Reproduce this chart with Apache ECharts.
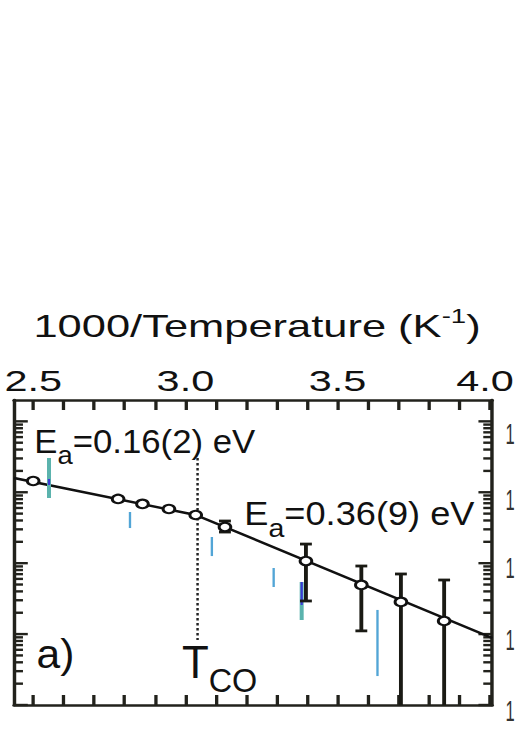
<!DOCTYPE html>
<html><head><meta charset="utf-8">
<script src="https://cdn.jsdelivr.net/npm/echarts@6/dist/echarts.min.js"></script>
<style>
html,body{margin:0;padding:0;background:#fff;overflow:hidden;}
#wrap{width:515px;height:729px;overflow:hidden;position:relative;background:#fff;}
#chart{width:373.19px;height:729px;transform:scaleX(1.38);transform-origin:0 0;}
</style></head><body><div id="wrap"><div id="chart"></div></div>
<script>
const S = 1.38;
const FONT = '"Liberation Sans", Arial, sans-serif';

// ---- data ----
const xAxisRange = [2.437, 4.008];
const yAxisRange = [1, 20000];
const xTickValues = [2.5, 2.6, 2.7, 2.8, 2.9, 3.0, 3.1, 3.2, 3.3, 3.4, 3.5, 3.6, 3.7, 3.8, 3.9, 4.0];
const xLabelValues = [2.5, 3.0, 3.5, 4.0];
const yTickValues = [1, 2, 3, 4, 5, 6, 7, 8, 9, 10, 20, 30, 40, 50, 60, 70, 80, 90,
  100, 200, 300, 400, 500, 600, 700, 800, 900, 1000, 2000, 3000, 4000, 5000, 6000, 7000, 8000, 9000, 10000];

const pointX = [2.5, 2.779, 2.859, 2.946, 3.034, 3.130, 3.396, 3.578, 3.708, 3.850];
const pointY = [1442, 804, 684, 581, 478, 324, 107, 49.3, 28.4, 15.3];

const errX = [3.130, 3.396, 3.578, 3.708, 3.850];
const errLow = [275, 29.3, 11.1, 0.5, 0.5];
const errHigh = [393, 186, 91.2, 70.4, 57.9];

const fitX = [2.437, 3.034, 4.008];
const fitY = [1589, 478, 8.81];

const tcoX = [3.04, 3.04];
const tcoY = [3048, 8.26];

const tealX = [2.552, 3.382];
const tealLow = [830, 15.8];
const tealHigh = [3043, 54.3];

const lblueX = [2.818, 3.087, 3.290, 3.631];
const lblueLow = [313, 126, 46.1, 2.56];
const lblueHigh = [527, 234, 85.5, 21.9];

const blueX = [2.552, 3.382];
const blueLow = [1267, 25.7];
const blueHigh = [1538, 54.3];

const titleText = '1000/Temperature (K';
const titleSup = '-1';
const ea1 = '=0.16(2) eV';
const ea2 = '=0.36(9) eV';
const panelLabel = 'a)';
const rightLabels = ['1', '1', '1', '1', '1'];
// ---------------

const chart = echarts.init(document.getElementById('chart'), null, {renderer: 'svg'});

function vbar(width, color, capHalf) {
  return function (params, api) {
    const x = api.value(0), lo = api.value(1), hi = api.value(2);
    const cs = params.coordSys;
    const p1 = api.coord([x, hi]);
    const p2 = api.coord([x, lo]);
    const bottom = cs.y + cs.height;
    let y2 = p2[1], clipped = false;
    if (y2 > bottom) { y2 = bottom; clipped = true; }
    const st = {stroke: color, lineWidth: width};
    const ch = [{type: 'line', shape: {x1: p1[0], y1: p1[1], x2: p1[0], y2: y2}, style: st}];
    if (capHalf) {
      ch.push({type: 'line', shape: {x1: p1[0] - capHalf, y1: p1[1], x2: p1[0] + capHalf, y2: p1[1]}, style: st});
      if (!clipped) ch.push({type: 'line', shape: {x1: p1[0] - capHalf, y1: y2, x2: p1[0] + capHalf, y2: y2}, style: st});
    }
    return {type: 'group', children: ch};
  };
}

const frameColor = '#22221c';
const axisCommon = {
  type: 'value', min: xAxisRange[0], max: xAxisRange[1],
  axisLine: {show: true, onZero: false, lineStyle: {color: frameColor, width: 2.5}},
  splitLine: {show: false}
};

const option = {
  animation: false,
  backgroundColor: '#fff',
  grid: {left: 14 / S, right: 373.19 - 492.5 / S, top: 400, bottom: 24, containLabel: false, outerBoundsMode: 'none'},
  xAxis: [
    Object.assign({}, axisCommon, {
      position: 'top',
      axisTick: {show: true, inside: true, length: 10, customValues: xTickValues, lineStyle: {color: frameColor, width: 2.4}},
      axisLabel: {show: true, customValues: xLabelValues,
        formatter: v => (v >= xLabelValues[xLabelValues.length - 1] - 1e-9 ? '{e|' + Number(v).toFixed(1) + '}' : Number(v).toFixed(1)),
        rich: {e: {fontSize: 30, fontFamily: FONT, color: '#111', padding: [0, 7, 0, 0]}},
        fontSize: 30, fontFamily: FONT, color: '#111', margin: 4}
    }),
    Object.assign({}, axisCommon, {
      position: 'bottom',
      axisTick: {show: true, inside: true, length: 10, customValues: xTickValues, lineStyle: {color: frameColor, width: 2.4}},
      axisLabel: {show: false}
    })
  ],
  yAxis: [
    {type: 'log', logBase: 10, min: yAxisRange[0], max: yAxisRange[1], position: 'left',
     axisLine: {show: true, onZero: false, lineStyle: {color: frameColor, width: 2.5}},
     axisTick: {show: false}, axisLabel: {show: false}, splitLine: {show: false}},
    {type: 'log', logBase: 10, min: yAxisRange[0], max: yAxisRange[1], position: 'right',
     axisLine: {show: true, onZero: false, lineStyle: {color: frameColor, width: 2.5}},
     axisTick: {show: false}, axisLabel: {show: false}, splitLine: {show: false}}
  ],
  series: [
    { // y-axis log ticks (left and right), drawn through the log scale
      type: 'custom', xAxisIndex: 0, yAxisIndex: 0, z: 1, silent: true,
      encode: {x: 0, y: 1},
      data: yTickValues.map(v => [xAxisRange[0], v]),
      renderItem: function (params, api) {
        const v = api.value(1);
        const lg = Math.log10(v);
        const major = Math.abs(lg - Math.round(lg)) < 1e-9;
        const len = major ? 10 : 6.5;
        const cs = params.coordSys;
        const y = api.coord([xAxisRange[0], v])[1];
        const st = {stroke: frameColor, lineWidth: 2.4};
        return {type: 'group', children: [
          {type: 'line', shape: {x1: cs.x, y1: y, x2: cs.x + len, y2: y}, style: st},
          {type: 'line', shape: {x1: cs.x + cs.width, y1: y, x2: cs.x + cs.width - len, y2: y}, style: st}
        ]};
      }
    },
    { // fit line
      type: 'line', xAxisIndex: 0, yAxisIndex: 0, z: 2, symbol: 'none', silent: true,
      data: fitX.map((x, i) => [x, fitY[i]]),
      lineStyle: {color: '#111', width: 2.4}
    },
    { // T_CO dotted line
      type: 'line', xAxisIndex: 0, yAxisIndex: 0, z: 2, symbol: 'none', silent: true,
      data: tcoX.map((x, i) => [x, tcoY[i]]),
      lineStyle: {color: '#222', width: 1.8, type: [2.5, 2.5]}
    },
    {
      type: 'custom', xAxisIndex: 0, yAxisIndex: 0, z: 3, silent: true, encode: {x: 0, y: [1, 2]},
      data: tealX.map((x, i) => [x, tealLow[i], tealHigh[i]]),
      renderItem: vbar(2.9, '#5bb3ad', 0)
    },
    {
      type: 'custom', xAxisIndex: 0, yAxisIndex: 0, z: 3, silent: true, encode: {x: 0, y: [1, 2]},
      data: lblueX.map((x, i) => [x, lblueLow[i], lblueHigh[i]]),
      renderItem: vbar(1.7, '#52a5d6', 0)
    },
    {
      type: 'custom', xAxisIndex: 0, yAxisIndex: 0, z: 3, silent: true, encode: {x: 0, y: [1, 2]},
      data: blueX.map((x, i) => [x, blueLow[i], blueHigh[i]]),
      renderItem: vbar(1.6, '#3b3bd6', 0)
    },
    { // error bars
      type: 'custom', xAxisIndex: 0, yAxisIndex: 0, z: 4, silent: true, encode: {x: 0, y: [1, 2]},
      data: errX.map((x, i) => [x, errLow[i], errHigh[i]]),
      renderItem: vbar(2.8, '#1a1a14', 4.3)
    },
    { // data points
      type: 'scatter', xAxisIndex: 0, yAxisIndex: 0, z: 5, silent: true,
      data: pointX.map((x, i) => [x, pointY[i]]),
      symbol: 'circle', symbolSize: 8.5,
      itemStyle: {color: '#fff', borderColor: '#111', borderWidth: 2.1, opacity: 1}
    }
  ],
  graphic: [
    {type: 'text', x: 257 / S, y: 306, silent: true,
     style: {text: '{a|' + titleText + '}{s|' + titleSup + '}{a|)}', fill: '#111',
       align: 'center', verticalAlign: 'top', textAlign: 'center', textVerticalAlign: 'top',
       rich: {a: {font: '31.5px ' + FONT, lineHeight: 40, verticalAlign: 'middle', fill: '#111'},
              s: {font: '20px ' + FONT, lineHeight: 20, verticalAlign: 'top', fill: '#111'}}}},
    {type: 'text', x: 34.3 / S, y: 424.6, scaleX: 0.763, silent: true,
     style: {text: '{m|E}{s|a}{m|' + ea1 + '}', fill: '#111', align: 'left', verticalAlign: 'top',
       rich: {m: {font: '33px ' + FONT, lineHeight: 34, verticalAlign: 'top', fill: '#111'},
              s: {font: '26px ' + FONT, lineHeight: 26, verticalAlign: 'top', padding: [18, 0, 0, 0], fill: '#111'}}}},
    {type: 'text', x: 244.3 / S, y: 496.6, scaleX: 0.795, silent: true,
     style: {text: '{m|E}{s|a}{m|' + ea2 + '}', fill: '#111', align: 'left', verticalAlign: 'top',
       rich: {m: {font: '33px ' + FONT, lineHeight: 34, verticalAlign: 'top', fill: '#111'},
              s: {font: '26px ' + FONT, lineHeight: 26, verticalAlign: 'top', padding: [18, 0, 0, 0], fill: '#111'}}}},
    {type: 'text', x: 182 / S, y: 639, scaleX: 0.69, silent: true,
     style: {text: '{t|T}{c|CO}', fill: '#111', align: 'left', verticalAlign: 'top',
       rich: {t: {font: '46px ' + FONT, lineHeight: 46, verticalAlign: 'top', fill: '#111'},
              c: {font: '34px ' + FONT, lineHeight: 34, verticalAlign: 'top', padding: [24, 0, 0, 0], fill: '#111'}}}},
    {type: 'text', x: 36.6 / S, y: 654, scaleX: 0.77, silent: true,
     style: {text: panelLabel, font: '40px ' + FONT, fill: '#111', align: 'left', verticalAlign: 'middle'}}
  ].concat(rightLabels.map((t, i) => ({
    type: 'text', x: 505.5 / S, y: [433, 499, 567, 639, 710][i], scaleX: 0.4, silent: true,
    style: {text: t, font: '30px ' + FONT, fill: '#333', align: 'left', verticalAlign: 'middle'}
  })))
};
chart.setOption(option);
</script>
</body></html>
